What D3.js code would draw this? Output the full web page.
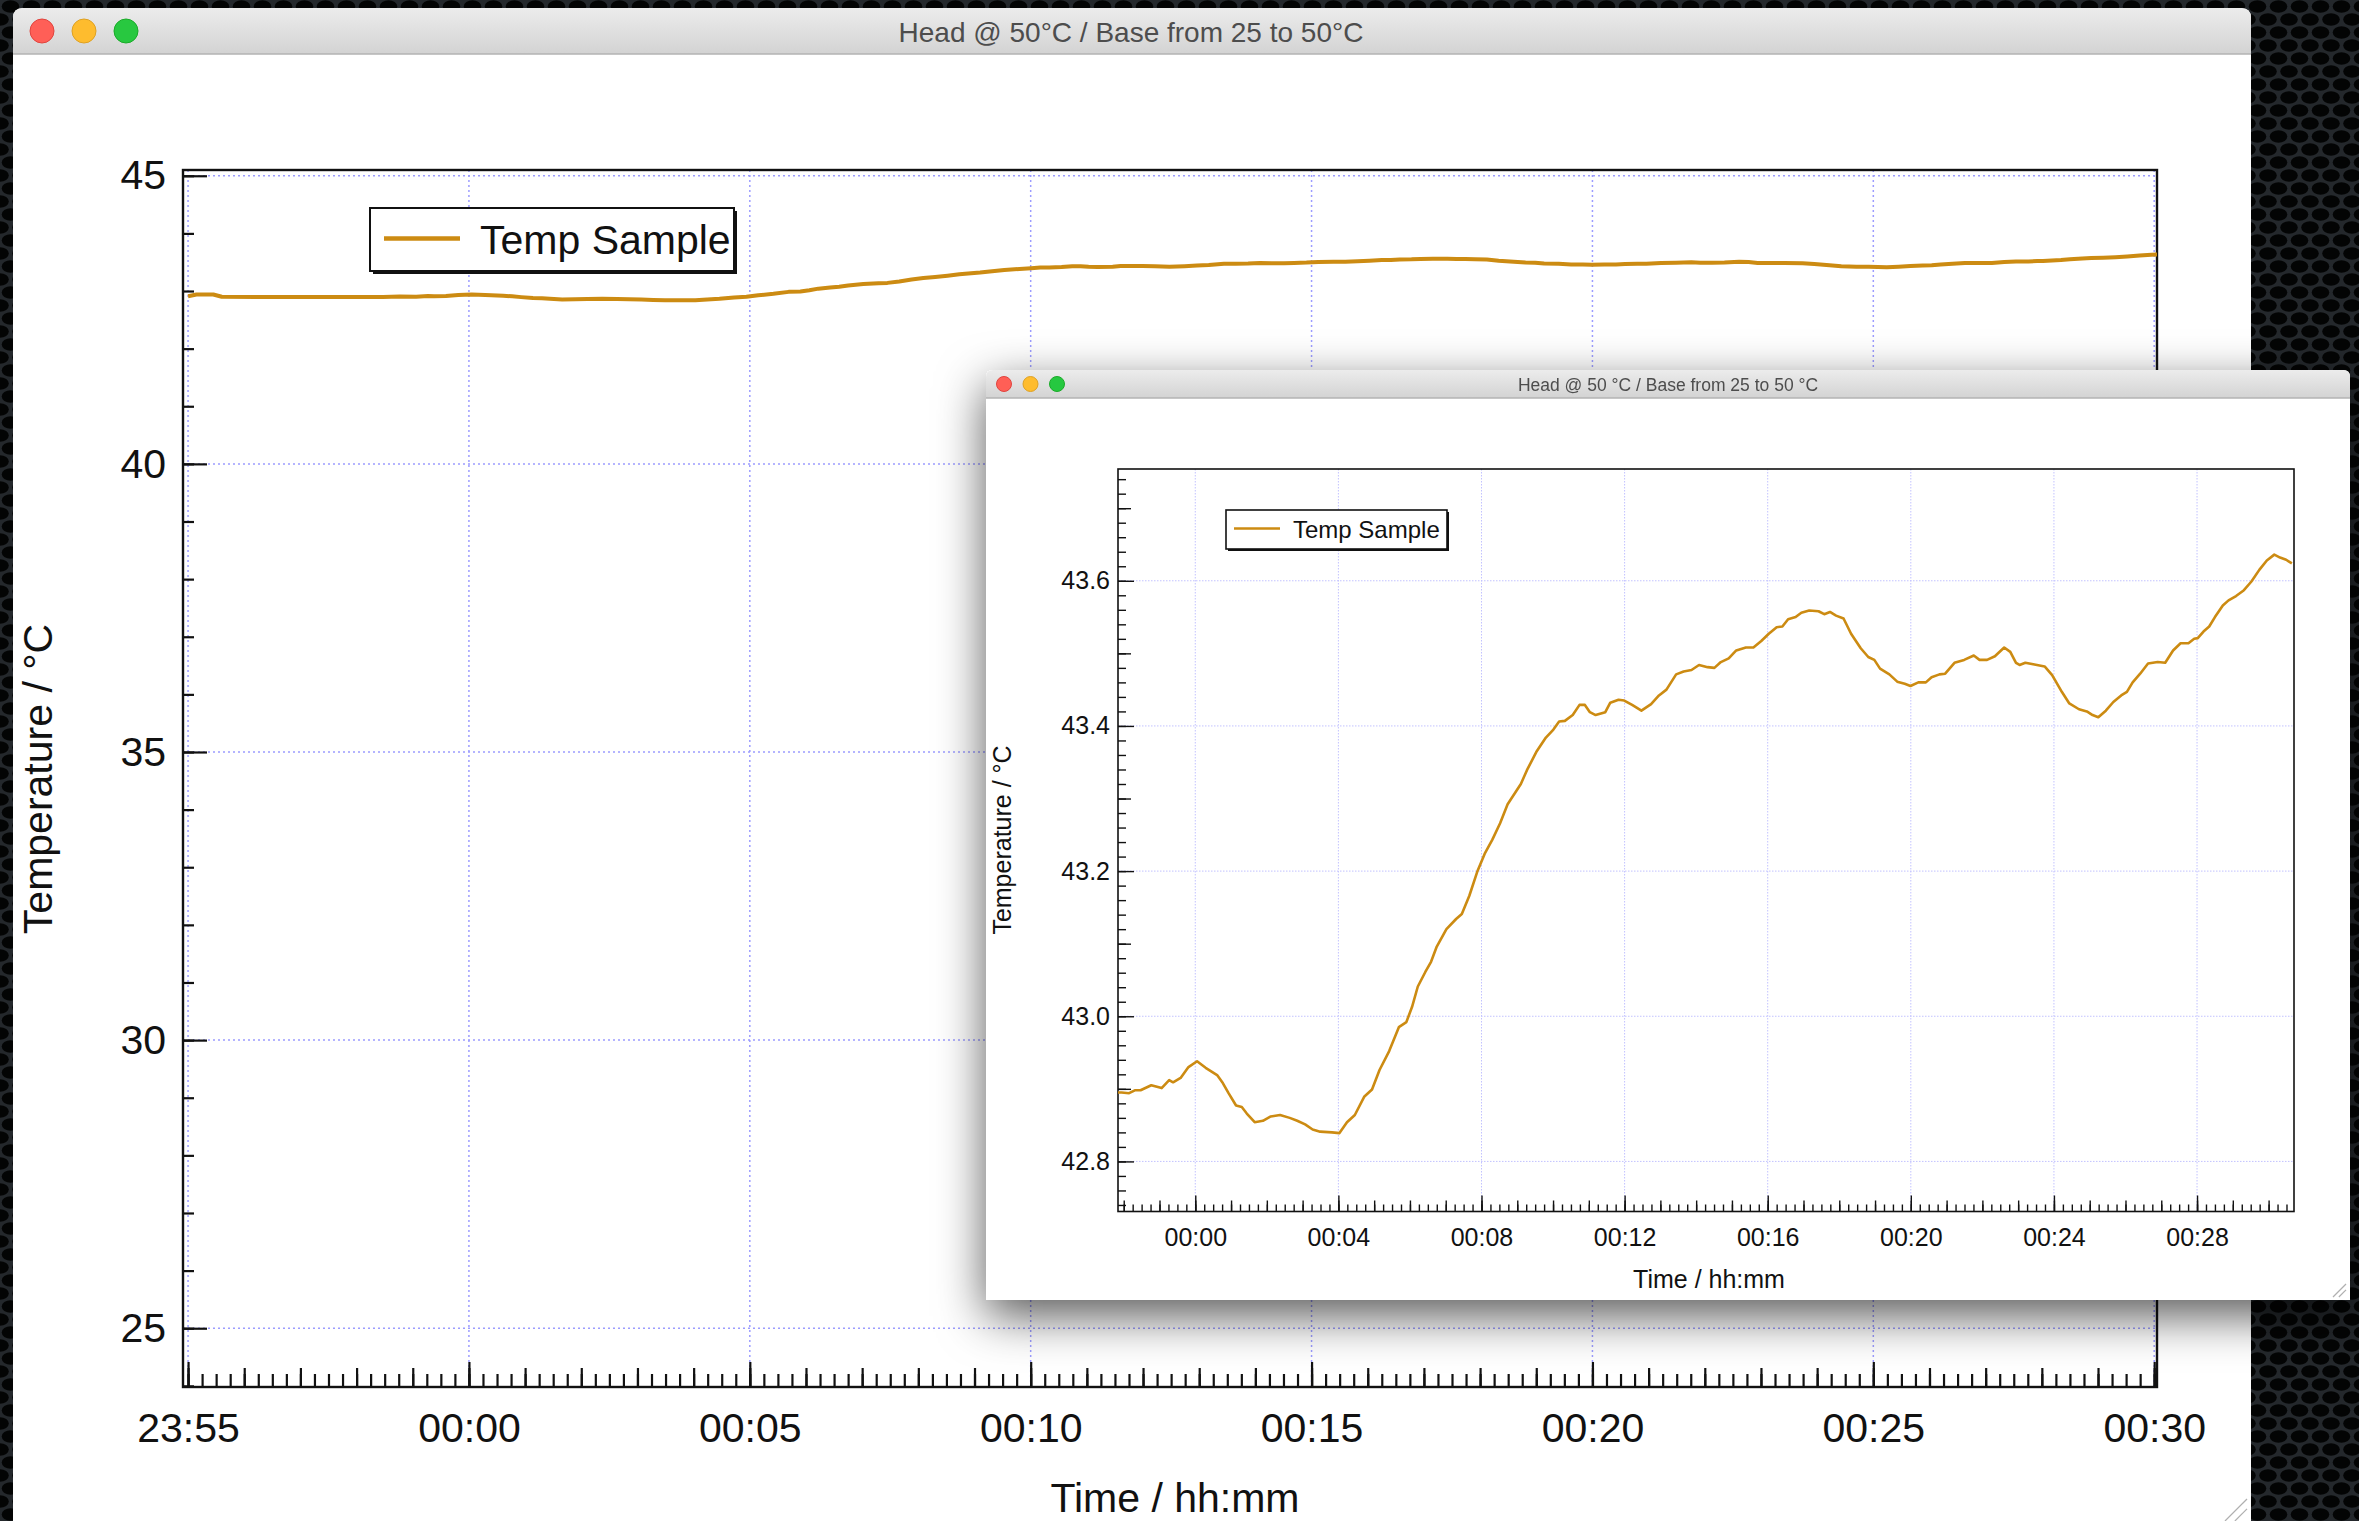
<!DOCTYPE html>
<html>
<head>
<meta charset="utf-8">
<script src="https://cdn.jsdelivr.net/npm/d3@7"></script>
<style>
  body { margin: 0; background: #15181b; }
  svg { display: block; font-family: "Liberation Sans", Arial, sans-serif; }
</style>
</head>
<body>
<svg id="chart" width="2359" height="1521"></svg>
<script>
// time in minutes from 00:00 (negative = before midnight) and the sampled temperature
const minutes = [
  -5.00, -4.85, -4.55, -4.40, -3.50, -2.60, -2.06, -1.85, -1.69, -1.53,
  -1.23, -0.94, -0.73, -0.62, -0.41, -0.19, 0.05, 0.29, 0.61, 0.77,
  0.93, 1.14, 1.30, 1.44, 1.66, 1.89, 2.11, 2.37, 2.64, 2.85,
  3.07, 3.28, 3.49, 3.82, 4.03, 4.24, 4.46, 4.72, 4.94, 5.15,
  5.42, 5.69, 5.90, 6.06, 6.22, 6.43, 6.59, 6.75, 7.02, 7.29,
  7.45, 7.66, 7.88, 8.09, 8.30, 8.52, 8.73, 8.94, 9.10, 9.27,
  9.53, 9.80, 10.01, 10.17, 10.33, 10.55, 10.74, 10.89, 11.03, 11.19,
  11.46, 11.60, 11.83, 11.99, 12.21, 12.47, 12.74, 12.96, 13.17, 13.44,
  13.65, 13.87, 14.08, 14.32, 14.51, 14.69, 14.91, 15.12, 15.39, 15.60,
  15.82, 16.03, 16.25, 16.41, 16.57, 16.78, 16.94, 17.16, 17.42, 17.58,
  17.74, 17.91, 18.12, 18.33, 18.60, 18.81, 18.98, 19.14, 19.40, 19.62,
  19.83, 19.99, 20.21, 20.42, 20.58, 20.80, 20.96, 21.22, 21.49, 21.76,
  21.92, 22.13, 22.35, 22.61, 22.78, 22.94, 23.04, 23.20, 23.42, 23.74,
  23.95, 24.22, 24.43, 24.70, 24.92, 25.08, 25.24, 25.45, 25.66, 25.88,
  26.04, 26.20, 26.41, 26.63, 26.90, 27.11, 27.33, 27.54, 27.76, 27.92,
  28.02, 28.18, 28.34, 28.50, 28.72, 28.88, 29.09, 29.31, 29.52, 29.74,
  29.95, 30.16, 30.32, 30.49, 30.65
];
const temps = [
  42.910, 42.940, 42.940, 42.900, 42.895, 42.895, 42.895, 42.894, 42.898, 42.898,
  42.905, 42.901, 42.912, 42.909, 42.915, 42.930, 42.938, 42.929, 42.919, 42.908,
  42.894, 42.877, 42.875, 42.866, 42.854, 42.856, 42.862, 42.864, 42.860, 42.856,
  42.851, 42.844, 42.841, 42.840, 42.839, 42.854, 42.864, 42.889, 42.899, 42.926,
  42.952, 42.985, 42.992, 43.013, 43.041, 43.061, 43.075, 43.096, 43.120, 43.134,
  43.141, 43.166, 43.199, 43.224, 43.243, 43.266, 43.292, 43.308, 43.320, 43.339,
  43.364, 43.384, 43.395, 43.406, 43.407, 43.415, 43.429, 43.429, 43.419, 43.415,
  43.419, 43.432, 43.436, 43.435, 43.429, 43.421, 43.430, 43.442, 43.450, 43.471,
  43.475, 43.477, 43.484, 43.481, 43.480, 43.488, 43.493, 43.504, 43.508, 43.508,
  43.517, 43.527, 43.536, 43.537, 43.547, 43.550, 43.556, 43.559, 43.558, 43.554,
  43.557, 43.552, 43.548, 43.527, 43.507, 43.495, 43.491, 43.479, 43.471, 43.461,
  43.458, 43.455, 43.460, 43.460, 43.467, 43.471, 43.472, 43.487, 43.491, 43.497,
  43.491, 43.491, 43.496, 43.508, 43.502, 43.487, 43.484, 43.487, 43.485, 43.482,
  43.470, 43.447, 43.431, 43.423, 43.420, 43.415, 43.412, 43.421, 43.433, 43.442,
  43.447, 43.460, 43.472, 43.486, 43.488, 43.487, 43.504, 43.514, 43.514, 43.520,
  43.521, 43.530, 43.537, 43.550, 43.566, 43.573, 43.579, 43.587, 43.599, 43.615,
  43.628, 43.636, 43.632, 43.629, 43.624
];

const bigYTicks = [25, 30, 35, 40, 45];
const bigYMinor = d3.range(24, 46);
const insetYTicks = [42.8, 43.0, 43.2, 43.4, 43.6];
const insetYMid = [42.9, 43.1, 43.3, 43.5, 43.7];
const insetYMinor = d3.range(2137, 2188).map(i => i / 50);

const bigTitle = "Head @ 50°C / Base from 25 to 50°C";
const insetTitle = "Head @ 50 °C / Base from 25 to 50 °C";
const seriesName = "Temp Sample";
const xTitle = "Time / hh:mm";
const yTitle = "Temperature / °C";
const lineColor = "#cc8b12";

const base = new Date(2015, 0, 2, 0, 0, 0);
const toDate = m => new Date(base.getTime() + m * 60000);
const points = minutes.map((m, i) => ({t: toDate(m), v: temps[i]}));

const svg = d3.select("#chart");
const defs = svg.append("defs");

// dark perforated desk background
const mesh = defs.append("pattern").attr("id", "mesh")
  .attr("patternUnits", "userSpaceOnUse").attr("width", 21).attr("height", 26);
mesh.append("rect").attr("width", 21).attr("height", 26).attr("fill", "#24282c");
[[10.5, 6.5], [0, 19.5], [21, 19.5]].forEach(c =>
  mesh.append("ellipse").attr("cx", c[0]).attr("cy", c[1]).attr("rx", 8.8).attr("ry", 6.2).attr("fill", "#030404"));

const grad = defs.append("linearGradient").attr("id", "titleGrad")
  .attr("x1", 0).attr("y1", 0).attr("x2", 0).attr("y2", 1);
grad.append("stop").attr("offset", "0%").attr("stop-color", "#ececec");
grad.append("stop").attr("offset", "100%").attr("stop-color", "#d3d3d3");

const shadow = defs.append("filter").attr("id", "winShadow")
  .attr("x", "-10%").attr("y", "-10%").attr("width", "120%").attr("height", "135%");
shadow.append("feDropShadow").attr("dx", 0).attr("dy", 16).attr("stdDeviation", 24)
  .attr("flood-color", "#000").attr("flood-opacity", 0.65);

svg.append("rect").attr("width", 2359).attr("height", 1521).attr("fill", "url(#mesh)");

function drawWindow(o) {
  const g = svg.append("g");
  if (o.shadow) g.attr("filter", "url(#winShadow)");
  const x0 = o.x, y0 = o.y, x1 = o.x + o.w, r = o.r;
  const shape = b => `M${x0},${b}V${y0 + r}Q${x0},${y0} ${x0 + r},${y0}H${x1 - r}Q${x1},${y0} ${x1},${y0 + r}V${b}Z`;
  g.append("path").attr("d", shape(o.y + o.h)).attr("fill", "#fff");
  g.append("path").attr("d", shape(o.y + o.barH)).attr("fill", "url(#titleGrad)");
  g.append("line").attr("x1", x0).attr("x2", x1)
    .attr("y1", o.y + o.barH).attr("y2", o.y + o.barH)
    .attr("stroke", "#b3b3b3").attr("stroke-width", 1.5);
  const lights = [["#ff5f57", "#e0443e"], ["#febc2e", "#dea123"], ["#28c840", "#1aab29"]];
  lights.forEach((c, i) => g.append("circle")
    .attr("cx", o.lightX + i * o.lightGap).attr("cy", o.y + o.barH / 2).attr("r", o.lightR)
    .attr("fill", c[0]).attr("stroke", c[1]).attr("stroke-width", 1));
  g.append("text").attr("x", x0 + o.titleX).attr("y", o.y + o.barH / 2 + 1)
    .attr("text-anchor", "middle").attr("dominant-baseline", "central")
    .attr("font-size", o.titleSize).attr("fill", "#4d4d4d").text(o.title);
  // resize grip
  const gx = x1 - 4, gy = o.gripY;
  [o.gripS, o.gripS * 0.55].forEach(s => g.append("line")
    .attr("x1", gx - s).attr("y1", gy).attr("x2", gx).attr("y2", gy - s)
    .attr("stroke", "#b0b0b0").attr("stroke-width", 1.2));
}

function drawPlot(o) {
  const g = svg.append("g");
  const x = d3.scaleTime().domain(o.xDomain.map(toDate)).range([o.left, o.right]);
  const y = d3.scaleLinear().domain(o.yDomain).range([o.bottom, o.top]);

  // dotted grid at the labelled ticks
  g.append("g").selectAll("line").data(x.ticks(o.xMajor)).join("line")
    .attr("x1", d => x(d)).attr("x2", d => x(d)).attr("y1", o.top).attr("y2", o.bottom)
    .attr("stroke", o.gridColor).attr("stroke-width", o.gridWidth).attr("stroke-dasharray", o.gridDash);
  g.append("g").selectAll("line").data(o.yMajor).join("line")
    .attr("x1", o.left).attr("x2", o.right).attr("y1", d => y(d)).attr("y2", d => y(d))
    .attr("stroke", o.gridColor).attr("stroke-width", o.gridWidth).attr("stroke-dasharray", o.gridDash);

  const put = (axis, tx, ty, w) => {
    const a = g.append("g").attr("transform", `translate(${tx},${ty})`).call(axis)
      .attr("font-family", null).attr("font-size", o.tickFont);
    a.select(".domain").remove();
    a.selectAll("line").attr("stroke", "#111").attr("stroke-width", w);
    a.selectAll("text").attr("fill", "#111");
    return a;
  };
  const noLabel = () => "";

  // x axis: minor, mid, major ticks pointing up into the plot
  put(d3.axisBottom(x).ticks(o.xMinor).tickSize(-o.xTick[0]).tickFormat(noLabel), 0, o.bottom, o.tickW);
  put(d3.axisBottom(x).ticks(o.xMid).tickSize(-o.xTick[1]).tickFormat(noLabel), 0, o.bottom, o.tickW);
  put(d3.axisBottom(x).ticks(o.xMajor).tickSize(-o.xTick[2]).tickPadding(o.xPad)
    .tickFormat(d3.timeFormat("%H:%M")), 0, o.bottom, o.tickW);

  // y axis: ticks pointing right into the plot
  put(d3.axisLeft(y).tickValues(o.yMinor).tickSize(-o.yTick[0]).tickFormat(noLabel), o.left, 0, o.tickW);
  if (o.yMid) put(d3.axisLeft(y).tickValues(o.yMid).tickSize(-o.yTick[1]).tickFormat(noLabel), o.left, 0, o.tickW);
  put(d3.axisLeft(y).tickValues(o.yMajor).tickSize(-o.yTick[2]).tickPadding(o.yPad)
    .tickFormat(d3.format(o.yFormat)), o.left, 0, o.tickW);

  // plot frame
  g.append("rect").attr("x", o.left).attr("y", o.top)
    .attr("width", o.right - o.left).attr("height", o.bottom - o.top)
    .attr("fill", "none").attr("stroke", "#111").attr("stroke-width", o.frameW);

  defs.append("clipPath").attr("id", o.id).append("rect")
    .attr("x", o.left).attr("y", o.top).attr("width", o.right - o.left).attr("height", o.bottom - o.top);

  g.append("path").datum(points)
    .attr("clip-path", `url(#${o.id})`)
    .attr("fill", "none").attr("stroke", lineColor).attr("stroke-width", o.lineW)
    .attr("stroke-linejoin", "round")
    .attr("d", d3.line().x(d => x(d.t)).y(d => y(d.v)));

  // legend
  const L = o.legend;
  g.append("rect").attr("x", L.x + L.sh).attr("y", L.y + L.sh).attr("width", L.w).attr("height", L.h).attr("fill", "#111");
  g.append("rect").attr("x", L.x).attr("y", L.y).attr("width", L.w).attr("height", L.h)
    .attr("fill", "#fff").attr("stroke", "#111").attr("stroke-width", L.bw);
  g.append("line").attr("x1", L.x + L.l0).attr("x2", L.x + L.l1)
    .attr("y1", L.y + L.h / 2 - 1).attr("y2", L.y + L.h / 2 - 1)
    .attr("stroke", lineColor).attr("stroke-width", L.lw);
  g.append("text").attr("x", L.x + L.tx).attr("y", L.y + L.h / 2)
    .attr("dominant-baseline", "central").attr("font-size", L.fs).attr("fill", "#111").text(seriesName);

  // axis titles
  g.append("text").attr("x", o.xTitlePos[0]).attr("y", o.xTitlePos[1])
    .attr("text-anchor", "middle").attr("dominant-baseline", "central")
    .attr("font-size", o.titleFont).attr("fill", "#111").text(xTitle);
  g.append("text").attr("transform", `translate(${o.yTitlePos[0]},${o.yTitlePos[1]}) rotate(-90)`)
    .attr("text-anchor", "middle").attr("dominant-baseline", "central")
    .attr("font-size", o.titleFont).attr("fill", "#111").text(yTitle);
}

// main window
drawWindow({x: 13, y: 8, w: 2238, h: 1560, barH: 46, r: 10, title: bigTitle, titleX: 1118,
  titleSize: 28, lightX: 42, lightGap: 42, lightR: 12, gripY: 1521, gripS: 22});

drawPlot({
  id: "clipBig", left: 183, right: 2157, top: 170, bottom: 1387,
  xDomain: [-5.09, 30.05], yDomain: [23.98, 45.1],
  xMajor: d3.timeMinute.every(5), xMid: d3.timeMinute.every(1), xMinor: d3.timeSecond.every(15),
  yMajor: bigYTicks, yMinor: bigYMinor, yFormat: "d",
  xTick: [13, 19, 25], yTick: [11, 11, 24], tickW: 2.2, xPad: 26, yPad: 17,
  tickFont: 41, titleFont: 41, frameW: 2.4, lineW: 4,
  gridColor: "#9c9cff", gridWidth: 1.5, gridDash: "2,3",
  legend: {x: 370, y: 208, w: 364, h: 63, sh: 3, bw: 2, l0: 14, l1: 90, lw: 4.5, tx: 110, fs: 41},
  xTitlePos: [1175, 1498], yTitlePos: [38, 779]
});

// inset window with the zoomed view
drawWindow({x: 986, y: 370, w: 1364, h: 930, barH: 28, r: 7, title: insetTitle, titleX: 682,
  titleSize: 17.5, lightX: 1004, lightGap: 26.5, lightR: 7.5, shadow: true, gripY: 1297, gripS: 13});

drawPlot({
  id: "clipInset", left: 1118, right: 2294, top: 469, bottom: 1211.5,
  xDomain: [-2.16, 30.71], yDomain: [42.731, 43.754],
  xMajor: d3.timeMinute.every(4), xMid: d3.timeMinute.every(1), xMinor: d3.timeSecond.every(15),
  yMajor: insetYTicks, yMid: insetYMid, yMinor: insetYMinor, yFormat: ".1f",
  xTick: [7, 11, 16], yTick: [8, 13, 16], tickW: 1.4, xPad: 17, yPad: 8,
  tickFont: 25, titleFont: 25, frameW: 1.6, lineW: 2.6,
  gridColor: "#c2c2ff", gridWidth: 1, gridDash: "1.5,1.5",
  legend: {x: 1226, y: 510, w: 221, h: 39, sh: 2, bw: 1.6, l0: 8, l1: 54, lw: 2.6, tx: 67, fs: 24},
  xTitlePos: [1709, 1279], yTitlePos: [1002, 840]
});
</script>
</body>
</html>
